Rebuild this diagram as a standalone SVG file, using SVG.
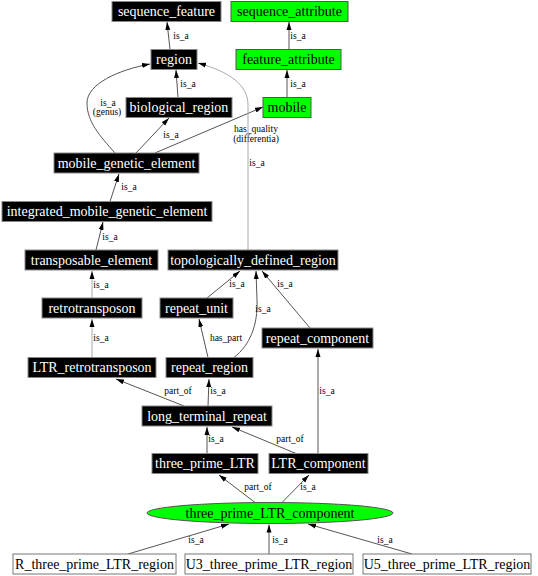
<svg xmlns="http://www.w3.org/2000/svg" width="538" height="576" viewBox="0 0 538 576">
<style>
.n rect{fill:#000;stroke:#888;stroke-width:1}
.n text{fill:#fff;font-family:"Liberation Serif",serif;font-size:14px;text-anchor:middle}
.g rect,.g ellipse{fill:#00ff00;stroke:#555;stroke-width:1}
.g text,.w text{fill:#000;font-family:"Liberation Serif",serif;font-size:14px;text-anchor:middle}
.w rect{fill:#fff;stroke:#777;stroke-width:1}
#edges path{fill:none;stroke:#555;stroke-width:1;marker-end:url(#ah)}
#edges path.l{stroke:#aaa}
#edges text{font-family:"Liberation Serif",serif;font-size:9.5px;text-anchor:middle;fill:#000}
</style>
<defs>
<marker id="ah" viewBox="0 0 8 6" refX="8" refY="3" markerWidth="8" markerHeight="6" markerUnits="userSpaceOnUse" orient="auto">
<path d="M0,0.5 L8,3 L0,5.5 Z" fill="#000"/>
</marker>
</defs>
<rect width="538" height="576" fill="#fff"/>
<g id="edges">
<path d="M170,49.5 L167,22"/><text x="181" y="39">is_a</text>
<path d="M289,49.5 L289,22"/><text x="298" y="39">is_a</text>
<path d="M178,97.5 L176,70"/><text x="188" y="87">is_a</text>
<path d="M287,97.5 L287,70"/><text x="298" y="87">is_a</text>
<path d="M115,153 C100,136 87,122 87,103 C87,84 118,70 150,64"/><text x="108" y="106">is_a</text><text x="107" y="115">(genus)</text>
<path d="M136,153 L169,118"/><text x="171" y="138">is_a</text>
<path d="M155,153 L263,107"/><text x="256" y="132">has_quality</text><text x="256" y="142">(differentia)</text>
<path class="l" d="M248,250 L248,105 C248,85 230,72 198,63"/><text x="257" y="166">is_a</text>
<path d="M110,201.5 L119,174"/><text x="129" y="190">is_a</text>
<path d="M96,250 L103,222"/><text x="110" y="240">is_a</text>
<path class="l" d="M92,298 L92,271"/><text x="101" y="288">is_a</text>
<path class="l" d="M92,357.5 L92,319"/><text x="101" y="341">is_a</text>
<path d="M207,298 L240,271"/><text x="237" y="287">is_a</text>
<path d="M234,357.5 C250,345 258,325 257,300 L256,271"/><text x="263" y="312">is_a</text>
<path d="M310,328 L262,271"/><text x="285" y="287">is_a</text>
<path d="M208,357.5 L199,319"/><text x="226" y="341">has_part</text>
<path d="M184,406 L116,379"/><text x="178" y="394">part_of</text>
<path d="M208,406 L209,379"/><text x="218" y="394">is_a</text>
<path d="M318,453.5 L318,349"/><text x="327" y="394">is_a</text>
<path d="M207,453.5 L207,427"/><text x="216" y="442">is_a</text>
<path d="M296,453.5 L232,427"/><text x="290" y="442">part_of</text>
<path d="M255,502.5 L219,475"/><text x="258" y="490">part_of</text>
<path d="M282,502.5 L309,475"/><text x="308" y="490">is_a</text>
<path d="M128,554 L229,524"/><text x="196" y="543">is_a</text>
<path d="M269,554 L269,524.5"/><text x="280" y="543">is_a</text>
<path d="M412,554 L308,524"/><text x="385" y="543">is_a</text>
</g>
<g id="sequence_feature" class="n"><rect x="112" y="1.5" width="109" height="20"/><text x="166.5" y="16">sequence_feature</text></g>
<g id="sequence_attribute" class="g"><rect x="231" y="1.5" width="117" height="20"/><text x="289.5" y="16">sequence_attribute</text></g>
<g id="region" class="n"><rect x="151" y="49.5" width="46" height="20"/><text x="174" y="64">region</text></g>
<g id="feature_attribute" class="g"><rect x="236" y="49.5" width="105" height="20"/><text x="288.5" y="64">feature_attribute</text></g>
<g id="biological_region" class="n"><rect x="126" y="97.5" width="106" height="20"/><text x="179" y="112">biological_region</text></g>
<g id="mobile" class="g"><rect x="263" y="97.5" width="48" height="20"/><text x="287" y="112">mobile</text></g>
<g id="mobile_genetic_element" class="n"><rect x="54" y="153" width="145" height="20"/><text x="126.5" y="167.5">mobile_genetic_element</text></g>
<g id="integrated_mobile_genetic_element" class="n"><rect x="2" y="201.5" width="210" height="20"/><text x="107" y="216">integrated_mobile_genetic_element</text></g>
<g id="transposable_element" class="n"><rect x="25" y="250" width="133" height="20"/><text x="91.5" y="264.5">transposable_element</text></g>
<g id="topologically_defined_region" class="n"><rect x="168" y="250" width="170" height="20"/><text x="253" y="264.5">topologically_defined_region</text></g>
<g id="retrotransposon" class="n"><rect x="42" y="298" width="100" height="20"/><text x="92" y="312.5">retrotransposon</text></g>
<g id="repeat_unit" class="n"><rect x="160" y="298" width="73" height="20"/><text x="196.5" y="312.5">repeat_unit</text></g>
<g id="repeat_component" class="n"><rect x="262" y="328" width="111" height="20"/><text x="317.5" y="342.5">repeat_component</text></g>
<g id="LTR_retrotransposon" class="n"><rect x="28" y="357.5" width="128" height="20"/><text x="92" y="372">LTR_retrotransposon</text></g>
<g id="repeat_region" class="n"><rect x="166" y="357.5" width="87" height="20"/><text x="209.5" y="372">repeat_region</text></g>
<g id="long_terminal_repeat" class="n"><rect x="142" y="406" width="130" height="20"/><text x="207" y="420.5">long_terminal_repeat</text></g>
<g id="three_prime_LTR" class="n"><rect x="152" y="453.5" width="106" height="20"/><text x="205" y="468">three_prime_LTR</text></g>
<g id="LTR_component" class="n"><rect x="269" y="453.5" width="99" height="20"/><text x="318.5" y="468">LTR_component</text></g>
<g id="three_prime_LTR_component" class="g"><ellipse cx="270" cy="513" rx="123" ry="10.5"/><text x="270" y="517.5">three_prime_LTR_component</text></g>
<g id="R_three_prime_LTR_region" class="w"><rect x="13" y="554" width="163" height="20"/><text x="94.5" y="568.5">R_three_prime_LTR_region</text></g>
<g id="U3_three_prime_LTR_region" class="w"><rect x="185" y="554" width="168" height="20"/><text x="269" y="568.5">U3_three_prime_LTR_region</text></g>
<g id="U5_three_prime_LTR_region" class="w"><rect x="363" y="554" width="168" height="20"/><text x="447" y="568.5">U5_three_prime_LTR_region</text></g>
</svg>
